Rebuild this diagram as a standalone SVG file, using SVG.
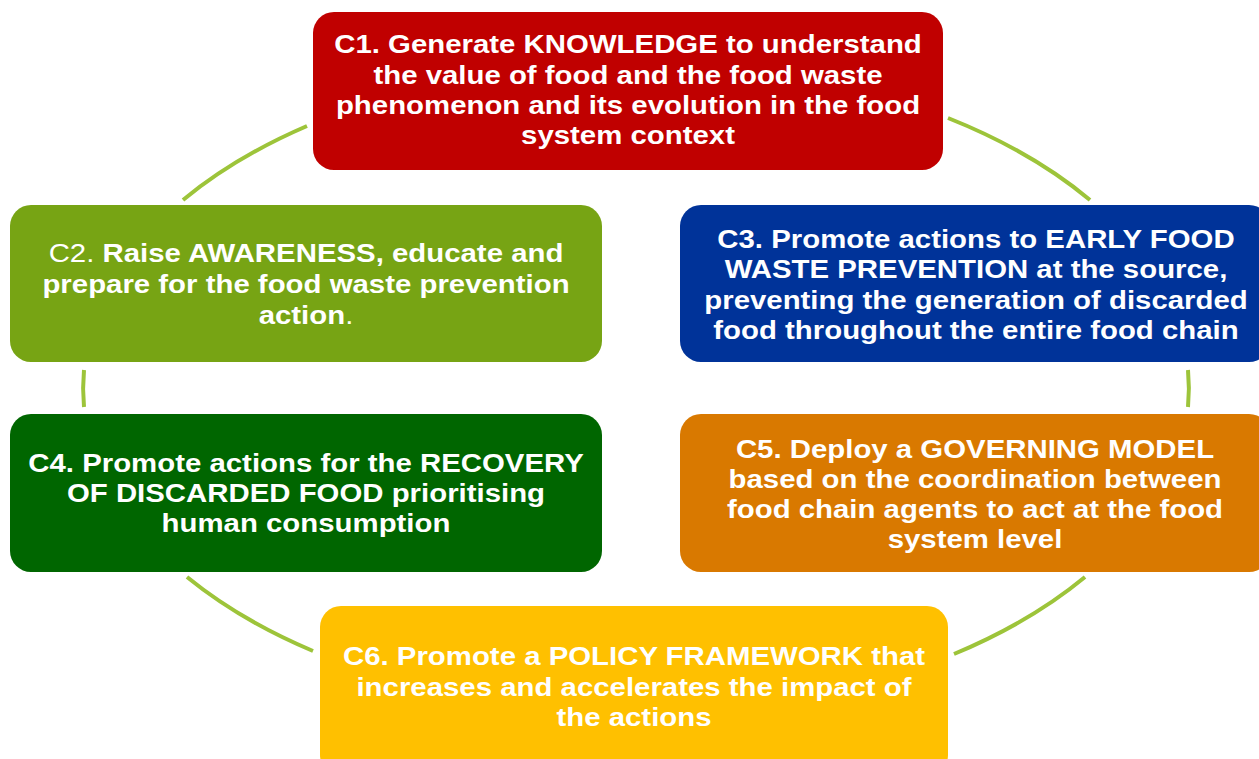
<svg xmlns="http://www.w3.org/2000/svg" width="1259" height="759" viewBox="0 0 1259 759">
  <style>
    .box { stroke: none; }
    .t { font-family: "Liberation Sans", Arial, sans-serif; font-size: 26px; font-weight: bold; fill: #ffffff; text-anchor: middle; }
    .r { font-weight: normal; }
    .arc { fill: none; stroke: #9DC43A; stroke-width: 4; stroke-linecap: butt; }
  </style>
  <rect width="1259" height="759" fill="#ffffff"/>

  <!-- cycle ring segments between the boxes -->
  <g id="connectors">
    <path class="arc" d="M183,200 A552,326 0 0 1 307,126"/>
    <path class="arc" d="M948,118 A552,326 0 0 1 1090,200"/>
    <path class="arc" d="M1188,370 A552,326 0 0 1 1188,407"/>
    <path class="arc" d="M1085,577 A552,326 0 0 1 954,654"/>
    <path class="arc" d="M313,651 A552,326 0 0 1 187,577"/>
    <path class="arc" d="M84,407 A552,326 0 0 1 84,370"/>
  </g>

  <!-- labels use a slightly widened face: each block is scaled horizontally about its centre -->
  <g id="c1">
    <rect class="box" x="313" y="12" width="630" height="158" rx="21" fill="#C00000"/>
    <g transform="translate(628 0) scale(1.13 1)">
      <text class="t" x="0" y="53">C1. Generate KNOWLEDGE to understand</text>
      <text class="t" x="0" y="84">the value of food and the food waste</text>
      <text class="t" x="0" y="114">phenomenon and its evolution in the food</text>
      <text class="t" x="0" y="144">system context</text>
    </g>
  </g>

  <g id="c2">
    <rect class="box" x="10" y="205" width="592" height="157" rx="21" fill="#77A414"/>
    <g transform="translate(306 0) scale(1.13 1)">
      <text class="t" x="0" y="262"><tspan class="r">C2. </tspan>Raise AWARENESS, educate and</text>
      <text class="t" x="0" y="293">prepare for the food waste prevention</text>
      <text class="t" x="0" y="324">action<tspan class="r">.</tspan></text>
    </g>
  </g>

  <g id="c3">
    <rect class="box" x="680" y="205" width="590" height="157" rx="21" fill="#003399"/>
    <g transform="translate(976 0) scale(1.13 1)">
      <text class="t" x="0" y="248">C3. Promote actions to EARLY FOOD</text>
      <text class="t" x="0" y="278">WASTE PREVENTION at the source,</text>
      <text class="t" x="0" y="309">preventing the generation of discarded</text>
      <text class="t" x="0" y="339">food throughout the entire food chain</text>
    </g>
  </g>

  <g id="c4">
    <rect class="box" x="10" y="414" width="592" height="158" rx="21" fill="#006600"/>
    <g transform="translate(306 0) scale(1.13 1)">
      <text class="t" x="0" y="472">C4. Promote actions for the RECOVERY</text>
      <text class="t" x="0" y="502">OF DISCARDED FOOD prioritising</text>
      <text class="t" x="0" y="532">human consumption</text>
    </g>
  </g>

  <g id="c5">
    <rect class="box" x="680" y="414" width="590" height="158" rx="21" fill="#D97900"/>
    <g transform="translate(975 0) scale(1.13 1)">
      <text class="t" x="0" y="458">C5. Deploy a GOVERNING MODEL</text>
      <text class="t" x="0" y="488">based on the coordination between</text>
      <text class="t" x="0" y="518">food chain agents to act at the food</text>
      <text class="t" x="0" y="548">system level</text>
    </g>
  </g>

  <g id="c6">
    <rect class="box" x="320" y="606" width="628" height="170" rx="21" fill="#FFC000"/>
    <g transform="translate(634 0) scale(1.13 1)">
      <text class="t" x="0" y="665">C6. Promote a POLICY FRAMEWORK that</text>
      <text class="t" x="0" y="696">increases and accelerates the impact of</text>
      <text class="t" x="0" y="726">the actions</text>
    </g>
  </g>
</svg>
